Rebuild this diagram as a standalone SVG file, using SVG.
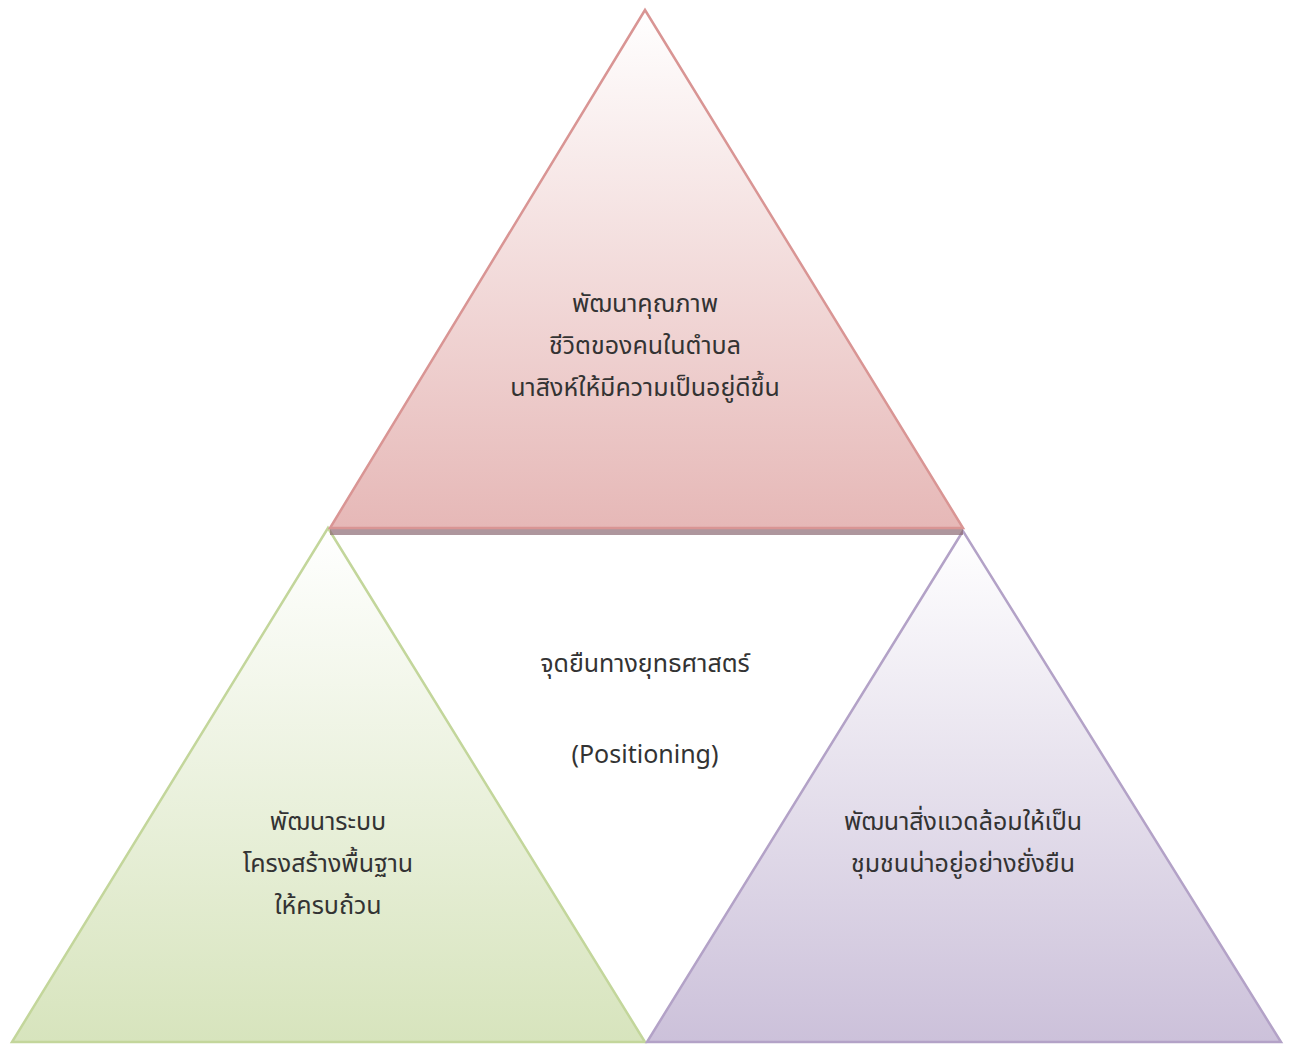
<svg xmlns="http://www.w3.org/2000/svg" width="1293" height="1044" viewBox="0 0 1293 1044">
<defs>
<linearGradient id="gRed" x1="0" y1="0" x2="0" y2="1"><stop offset="0" stop-color="#ffffff"/><stop offset="1" stop-color="#e6b8b7"/></linearGradient>
<linearGradient id="gGreen" x1="0" y1="0" x2="0" y2="1"><stop offset="0" stop-color="#ffffff"/><stop offset="1" stop-color="#d7e4bd"/></linearGradient>
<linearGradient id="gPurple" x1="0" y1="0" x2="0" y2="1"><stop offset="0" stop-color="#ffffff"/><stop offset="1" stop-color="#ccc1da"/></linearGradient>
</defs>
<style>
text{font-family:"Noto Sans Thai","Noto Sans","Liberation Sans",sans-serif;font-size:25px;fill:#333333;text-anchor:middle}
.tri{stroke-width:2.5;stroke-linejoin:miter}
</style>
<rect width="1293" height="1044" fill="#ffffff"/>
<g id="green">
<polygon class="tri" points="328,528 12,1042 645,1042" fill="url(#gGreen)" stroke="#c3d69b"/>
<text x="328" y="830">พัฒนาระบบ</text>
<text x="328" y="872">โครงสร้างพื้นฐาน</text>
<text x="328" y="914">ให้ครบถ้วน</text>
</g>
<g id="purple">
<polygon class="tri" points="963,531 647,1042 1281,1042" fill="url(#gPurple)" stroke="#b3a2c7"/>
<text x="963" y="830">พัฒนาสิ่งแวดล้อมให้เป็น</text>
<text x="963" y="872">ชุมชนน่าอยู่อย่างยั่งยืน</text>
</g>
<g id="red">
<rect x="330" y="528" width="633" height="7" fill="#8c6a73" opacity="0.7"/>
<polygon class="tri" points="645,10 330,528 963,528" fill="url(#gRed)" stroke="#d99594"/>
<text x="645" y="312">พัฒนาคุณภาพ</text>
<text x="645" y="354">ชีวิตของคนในตำบล</text>
<text x="645" y="396">นาสิงห์ให้มีความเป็นอยู่ดีขึ้น</text>
</g>
<g id="center">
<text x="645" y="672">จุดยืนทางยุทธศาสตร์</text>
<text x="645" y="763">(Positioning)</text>
</g>
<g id="connectors"/>
</svg>
